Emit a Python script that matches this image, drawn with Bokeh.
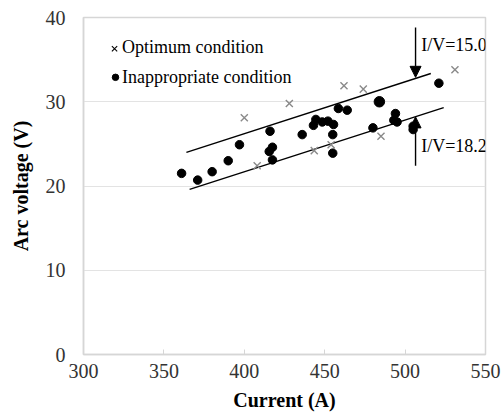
from bokeh.plotting import figure
from bokeh.models import Range1d, FixedTicker, Label, Arrow, NormalHead
from bokeh.embed import file_html
from bokeh.resources import INLINE

# Welding measurements: current (A) vs arc voltage (V)
opt_current = [400, 428, 408, 443.5, 454, 462, 474, 485, 531]
opt_voltage = [28.1, 29.8, 22.4, 24.2, 24.9, 31.9, 31.5, 25.9, 33.8]

inap_current = [361, 371, 380, 390, 397, 416, 415.5, 417.5, 417.5, 436, 443, 444.5,
                448.5, 452, 455.5, 455, 455, 458.5, 464, 480, 493, 494, 495, 505,
                505, 521]
inap_voltage = [21.5, 20.7, 21.7, 23.0, 24.9, 26.5, 24.1, 24.6, 23.1, 26.1, 27.2, 27.9,
                27.6, 27.7, 27.3, 26.1, 23.9, 29.2, 29.0, 26.9, 27.8, 28.6, 27.6, 26.7,
                27.1, 32.2]

# emphasised measurement
mark_current = [484]
mark_voltage = [30.0]

# guide lines for constant current/voltage ratios
upper_current = [364, 516]
upper_voltage = [24.0, 33.35]
lower_current = [366, 524]
lower_voltage = [19.6, 29.3]

x_ticks = [300, 350, 400, 450, 500, 550]
y_ticks = [0, 10, 20, 30, 40]

SERIF = "Liberation Serif"
FRAME = "#d6d6d6"

p = figure(width=503, height=417, output_backend="svg", toolbar_location=None,
           x_range=Range1d(300, 550), y_range=Range1d(0, 40),
           min_border_left=83, min_border_right=18, min_border_top=17,
           min_border_bottom=63)
p.background_fill_color = "white"
p.border_fill_color = "white"
p.outline_line_color = FRAME
p.outline_line_width = 1.5

p.xgrid.visible = False
p.ygrid.grid_line_color = "#e3e3e3"
p.ygrid.grid_line_width = 1.2

p.xaxis.ticker = FixedTicker(ticks=x_ticks)
p.yaxis.ticker = FixedTicker(ticks=y_ticks)
for ax in (p.xaxis[0], p.yaxis[0]):
    ax.axis_line_color = FRAME
    ax.axis_line_width = 1.5
    ax.minor_tick_line_color = None
    ax.major_label_text_font = SERIF
    ax.major_label_text_font_size = "20px"
    ax.major_label_text_color = "#333333"
    ax.axis_label_text_font = SERIF
    ax.axis_label_text_font_size = "20px"
    ax.axis_label_text_font_style = "bold"
    ax.axis_label_text_color = "black"

p.xaxis.major_tick_line_color = FRAME
p.xaxis.major_tick_in = 5
p.xaxis.major_tick_out = 0
p.xaxis.major_label_standoff = 9
p.xaxis.axis_label = "Current (A)"
p.xaxis.axis_label_standoff = 8

p.yaxis.major_tick_line_color = None
p.yaxis.major_tick_in = 0
p.yaxis.major_tick_out = 0
p.yaxis.major_label_standoff = 18
p.yaxis.axis_label = "Arc voltage (V)"
p.yaxis.axis_label_standoff = 11

# guide lines
p.line(upper_current, upper_voltage, line_color="black", line_width=1.4)
p.line(lower_current, lower_voltage, line_color="black", line_width=1.4)

# data
p.scatter(opt_current, opt_voltage, marker="x", size=10, line_color="#8a8a8a",
          line_width=1.4)
p.scatter(inap_current, inap_voltage, marker="circle", size=8.5, fill_color="black",
          line_color="black")
p.scatter(mark_current, mark_voltage, marker="circle", size=10.5, fill_color="black",
          line_color="black")

# arrows marking the ratio lines
p.add_layout(Arrow(x_start=506.5, y_start=38.8, x_end=506.5, y_end=32.9,
                   line_color="black", line_width=1.4,
                   end=NormalHead(size=11, fill_color="black", line_color="black")))
p.add_layout(Arrow(x_start=506.5, y_start=22.4, x_end=506.5, y_end=28.2,
                   line_color="black", line_width=1.4,
                   end=NormalHead(size=11, fill_color="black", line_color="black")))
p.add_layout(Label(x=510.0, y=36.7, text="I/V=15.0", text_font=SERIF,
                   text_font_size="18px", text_baseline="middle", text_color="black"))
p.add_layout(Label(x=510.0, y=24.8, text="I/V=18.2", text_font=SERIF,
                   text_font_size="18px", text_baseline="middle", text_color="black"))

# key
p.scatter([319.3], [36.3], marker="x", size=7.5, line_color="black", line_width=1.1)
p.scatter([319.9], [32.9], marker="circle", size=6.5, fill_color="black",
          line_color="black")
p.add_layout(Label(x=324.0, y=36.45, text="Optimum condition", text_font=SERIF,
                   text_font_size="18px", text_baseline="middle", text_color="black"))
p.add_layout(Label(x=324.0, y=32.9, text="Inappropriate condition", text_font=SERIF,
                   text_font_size="18px", text_baseline="middle", text_color="black"))

open("out.html", "w").write(file_html(p, INLINE))
